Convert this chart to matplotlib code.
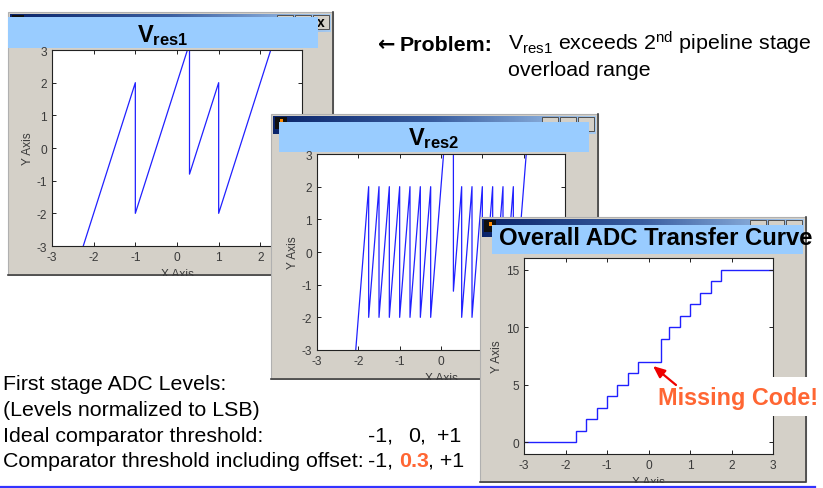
import numpy as np
import matplotlib
matplotlib.use("Agg")
import matplotlib.pyplot as plt
from matplotlib.patches import Rectangle, FancyArrowPatch
from matplotlib.lines import Line2D
from matplotlib.colors import LinearSegmentedColormap

plt.rcParams['font.family'] = ['Liberation Sans', 'DejaVu Sans']
plt.rcParams['mathtext.fontset'] = 'custom'
plt.rcParams['mathtext.rm'] = 'Liberation Sans'
plt.rcParams['mathtext.bf'] = 'Liberation Sans:bold'
plt.rcParams['mathtext.it'] = 'Liberation Sans:italic'
plt.rcParams['axes.unicode_minus'] = False

# ---------------- data ----------------
axis_ticks = [-3, -2, -1, 0, 1, 2, 3]
adc_yticks = [0, 5, 10, 15]

# first stage residue (vertices of the piecewise-linear curve)
vres1_x = [-2.25, -1.0, -1.0, 0.3, 0.3, 1.0, 1.0, 2.5]
vres1_y = [-3.0, 2.0, -2.0, 3.2, -0.8, 2.0, -2.0, 4.0]

# second stage residue (vertices)
vres2_x = [-2.0625, -1.75, -1.75, -1.5, -1.5, -1.25, -1.25, -1.0, -1.0,
           -0.75, -0.75, -0.5, -0.5, -0.25, -0.25, 0.3, 0.3, 0.5, 0.5,
           0.75, 0.75, 1.0, 1.0, 1.25, 1.25, 1.5, 1.5, 1.75, 1.75, 2.1]
vres2_y = [-3.0, 2.0, -2.0, 2.0, -2.0, 2.0, -2.0, 2.0, -2.0,
           2.0, -2.0, 2.0, -2.0, 2.0, -2.0, 6.8, -1.2, 2.0, -2.0,
           2.0, -2.0, 2.0, -2.0, 2.0, -2.0, 2.0, -2.0, 2.0, -2.0, 3.6]

# overall ADC transfer curve (code 8 missing)
adc_edges = [-3.0, -1.75, -1.5, -1.25, -1.0, -0.75, -0.5, -0.25, 0.3,
             0.5, 0.75, 1.0, 1.25, 1.5, 1.75, 3.0]
adc_codes = [0, 1, 2, 3, 4, 5, 6, 7, 9, 10, 11, 12, 13, 14, 15]

# ---------------- figure ----------------
W, H = 823, 489
fig = plt.figure(figsize=(W / 100, H / 100), dpi=100)
fig.patch.set_facecolor('white')


def fx(x):
    return x / W


def fy(y):
    return 1 - y / H


def rect(x0, y0, x1, y1, z, **kw):
    r = Rectangle((fx(x0), fy(y1)), (x1 - x0) / W, (y1 - y0) / H,
                  transform=fig.transFigure, zorder=z, **kw)
    fig.add_artist(r)
    return r


tb_cmap = LinearSegmentedColormap.from_list('tb', ['#0a246a', '#3a5ea0', '#a6caf0'])
GRAY = '#d4d0c8'
TXT = '#3a3a3a'


def add_window(x0, y0, x1, y1, band, z, close_mark):
    bx0, by0, bx1, by1 = band
    rect(x0, y0, x1, y1, z, fc=GRAY, ec='#b0b0b0', lw=0.8)
    fig.add_artist(Line2D([fx(x1), fx(x1), fx(x0)], [fy(y0), fy(y1), fy(y1)],
                          transform=fig.transFigure, color='#404040', lw=1.2,
                          zorder=z + 0.001))
    # title bar gradient
    tax = fig.add_axes([fx(x0 + 2), fy(y0 + 20), (x1 - x0 - 4) / W, 18 / H])
    tax.set_zorder(z + 0.002)
    tax.imshow(np.linspace(0, 1, 256).reshape(1, -1), aspect='auto',
               cmap=tb_cmap, extent=[0, 1, 0, 1])
    tax.set_axis_off()
    # icon
    rect(x0 + 4, y0 + 3, x0 + 16, y0 + 15, z + 0.003, fc='#101010', ec='none')
    rect(x0 + 9, y0 + 5, x0 + 12, y0 + 9, z + 0.0031, fc='#ff8800', ec='none')
    # buttons
    bw, bh = 16, 14
    cx1 = x1 - 4
    for i in range(3):
        r1 = cx1 - i * (bw + 2)
        rect(r1 - bw, y0 + 3, r1, y0 + 3 + bh, z + 0.003, fc=GRAY, ec='#505050', lw=0.7)
    if close_mark:
        fig.text(fx(cx1 - bw / 2), fy(y0 + 3 + bh / 2), 'x', ha='center',
                 va='center', fontsize=10, fontweight='bold', color='black',
                 zorder=z + 0.0032)
    # light blue title band
    rect(bx0, by0, bx1, by1, z + 0.004, fc='#99ccff', ec='none')
    # cover below the window (clips the x-label)
    rect(x0 - 2, y1 + 1, x1 + 2, y1 + 25, z + 0.006, fc='white', ec='none')


def style_axes(ax, z, xlim, ylim, xt, yt):
    ax.set_zorder(z + 0.005)
    ax.set_xlim(*xlim)
    ax.set_ylim(*ylim)
    ax.set_xticks(xt)
    ax.set_yticks(yt)
    ax.tick_params(direction='in', length=3, width=0.7, top=True, right=True,
                   labelsize=8.6, labelcolor=TXT, pad=3.5, color='#222222')
    for s in ax.spines.values():
        s.set_linewidth(0.8)
        s.set_color('#222222')
    ax.set_xlabel('X Axis', fontsize=8.6, color=TXT, labelpad=4)
    ax.set_ylabel('Y Axis', fontsize=8.6, color=TXT, labelpad=1.8)
    ax.set_facecolor('white')


# ---- window 1 : Vres1 ----
z1 = 1
add_window(8, 13, 333, 276, (8, 18, 318, 49), z1, True)
ax1 = fig.add_axes([fx(52), fy(247), (302 - 52) / W, (247 - 51) / H])
style_axes(ax1, z1, (-3, 3), (-3, 3), axis_ticks, axis_ticks)
ax1.plot(vres1_x, vres1_y, color='#2020ff', lw=0.9)
fig.text(fx(163), fy(42), r'$\mathbf{V}_{\mathbf{res1}}$', ha='center',
         va='baseline', fontsize=17, color='black', zorder=z1 + 0.007)

# ---- window 2 : Vres2 ----
z2 = 2
add_window(271, 115, 598, 380, (279, 123, 589, 153), z2, False)
ax2 = fig.add_axes([fx(317), fy(351), (565 - 317) / W, (351 - 155) / H])
style_axes(ax2, z2, (-3, 3), (-3, 3), axis_ticks, axis_ticks)
ax2.plot(vres2_x, vres2_y, color='#2020ff', lw=0.9)
fig.text(fx(434), fy(145), r'$\mathbf{V}_{\mathbf{res2}}$', ha='center',
         va='baseline', fontsize=17, color='black', zorder=z2 + 0.007)

# ---- window 3 : overall transfer curve ----
z3 = 3
add_window(480, 218, 806, 483, (492, 226, 803, 255), z3, False)
ax3 = fig.add_axes([fx(524), fy(455), (773 - 524) / W, (455 - 259) / H])
style_axes(ax3, z3, (-3, 3), (-1, 16), axis_ticks, adc_yticks)
ax3.stairs(adc_codes, adc_edges, baseline=None, color='#2020ff', lw=1.0)
fig.text(fx(499), fy(245), 'Overall ADC Transfer Curve', ha='left',
         va='baseline', fontsize=17.2, fontweight='bold', color='black',
         zorder=z3 + 0.007)

# ---- annotation: missing code ----
rect(648, 378, 823, 417, 5, fc='white', ec='none')
fig.text(fx(658), fy(405), 'Missing Code!', ha='left', va='baseline',
         fontsize=16.8, fontweight='bold', color='#ff6633', zorder=6)
fig.add_artist(FancyArrowPatch(posA=(fx(676), fy(386)), posB=(fx(653), fy(367)),
                               transform=fig.transFigure,
                               arrowstyle='-|>,head_length=0.7,head_width=0.3',
                               mutation_scale=10, color='#ee0000', lw=1.6,
                               shrinkA=0, shrinkB=0, zorder=6))

# ---- slide texts ----
FS = 15.4
fig.text(fx(378), fy(51), '\u2190', ha='left', va='baseline', family='DejaVu Sans',
         fontsize=15, fontweight='bold', color='black', zorder=10)
fig.text(fx(400), fy(51), 'Problem:', ha='left', va='baseline',
         fontsize=FS, fontweight='bold', color='black', zorder=10)
fig.text(fx(508), fy(51), r'V$_{\mathrm{res1}}$ exceeds 2$^{\mathrm{nd}}$ pipeline stage',
         ha='left', va='baseline', fontsize=FS, color='black', zorder=10)
fig.text(fx(508), fy(76), 'overload range', ha='left', va='baseline',
         fontsize=FS, color='black', zorder=10)

fig.text(fx(3), fy(390), 'First stage ADC Levels:', ha='left', va='baseline',
         fontsize=FS, color='black', zorder=10)
fig.text(fx(3), fy(416), '(Levels normalized to LSB)', ha='left', va='baseline',
         fontsize=FS, color='black', zorder=10)
fig.text(fx(3), fy(442), 'Ideal comparator threshold:', ha='left', va='baseline',
         fontsize=FS, color='black', zorder=10)
fig.text(fx(368), fy(442), '-1,', ha='left', va='baseline', fontsize=FS, zorder=10)
fig.text(fx(408), fy(442), '0,', ha='left', va='baseline', fontsize=FS, zorder=10)
fig.text(fx(437), fy(442), '+1', ha='left', va='baseline', fontsize=FS, zorder=10)
fig.text(fx(3), fy(467), 'Comparator threshold including offset:', ha='left',
         va='baseline', fontsize=FS, color='black', zorder=10)
fig.text(fx(368), fy(467), '-1,', ha='left', va='baseline', fontsize=FS, zorder=10)
fig.text(fx(399), fy(467), '0.3', ha='left', va='baseline', fontsize=FS,
         fontweight='bold', color='#ff6633', zorder=10)
fig.text(fx(428), fy(467), ', +1', ha='left', va='baseline', fontsize=FS, zorder=10)

# bottom rule
fig.add_artist(Line2D([fx(0), fx(815)], [fy(487.5), fy(487.5)],
                      transform=fig.transFigure, color='#3333ff', lw=1.6, zorder=10))

fig.savefig('out.png', dpi=100, facecolor='white')
